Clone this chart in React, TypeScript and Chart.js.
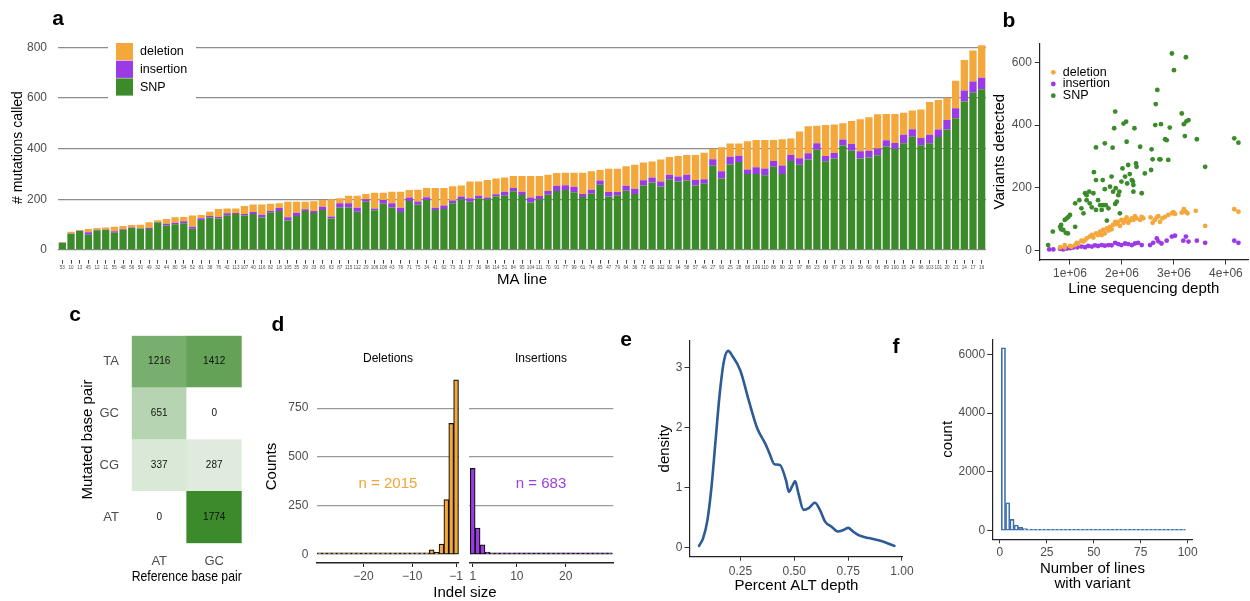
import React, { useEffect, useRef } from 'react';
import { Chart, registerables } from 'chart.js';

Chart.register(...registerables);

const FONT = "'Liberation Sans', Arial, Helvetica, sans-serif";
Chart.defaults.font.family = FONT;

const GRAY = '#4d4d4d';
const ORANGE = '#f4a73b';
const PURPLE = '#9b3be6';
const GREEN = '#3b8b2b';

// ---------- Panel a ----------
const MA_LINES = ['53','10','13','45','12','11','55','48','56','50','49','32','44','80','54','52','81','38','76','42','113','107','40','116','82','18','105','35','39','33','83','63','87','115','112','29','106','108','43','78','71','75','34','41','62','73','31','37','30','98','114','51','84','95','104','111','70','91','77','99','61','74','85','47','79','64','36','72','65','102','92','94','58','57','46','27','93','25','28','68','109','110','86','90','22','97','88','23','69','67','26','19','59','60','66','89','100','15','24','96','103','101','20','21','14','17','16'];
const SNP_CALLS = [27,64,75,60,78,80,68,79,87,84,83,108,97,101,105,84,118,128,124,137,142,136,142,128,147,154,116,134,154,146,158,124,168,168,151,190,157,182,168,150,193,178,197,158,162,184,200,190,204,200,211,214,232,217,187,200,218,233,237,228,209,222,257,211,216,234,221,254,266,250,279,270,274,254,261,332,282,337,347,300,300,295,328,300,351,336,357,396,350,361,412,392,361,365,374,408,399,421,447,413,421,446,475,520,586,620,634];
const INSERTION_CALLS = [1,1,1,10,2,1,6,3,2,2,5,2,6,6,8,8,7,6,6,8,4,6,8,11,7,12,13,13,7,8,13,8,16,16,16,10,7,15,16,17,14,13,11,9,13,11,11,14,10,7,9,16,13,13,20,13,15,20,18,21,12,16,17,18,13,19,21,21,20,20,18,20,23,22,18,26,29,31,25,18,26,27,23,33,24,26,25,25,21,22,24,26,29,27,26,25,23,34,29,29,34,29,38,39,43,45,46];
const DELETION_CALLS = [3,7,3,13,7,8,18,13,10,14,21,7,19,22,17,44,13,17,32,19,18,32,29,40,28,18,61,43,29,38,26,68,20,30,47,21,62,29,46,63,30,47,37,78,70,56,43,66,56,69,62,56,47,62,85,79,64,51,50,56,84,73,42,92,92,77,94,70,63,87,70,81,78,99,105,41,94,52,48,111,108,112,83,104,65,106,106,69,122,112,64,91,126,132,136,104,115,87,74,112,129,117,88,109,121,122,128];
const A_Y_TICKS = [0, 200, 400, 600, 800];

// ---------- Panel b ----------
const SNP_DEPTH = [0.58,0.67,0.81,0.83,0.87,0.92,0.96,0.83,0.90,0.94,1.00,0.97,1.10,1.10,1.18,1.22,1.26,1.29,1.32,1.32,1.37,1.38,1.42,1.45,1.46,1.50,1.50,1.54,1.58,1.61,1.63,1.64,1.50,1.67,1.67,1.69,1.71,1.74,1.77,1.80,1.82,1.83,1.85,1.87,1.88,1.87,1.90,1.93,1.95,1.96,1.99,2.01,2.03,2.06,2.08,2.09,2.10,2.12,2.15,2.19,2.21,2.22,2.22,2.24,2.27,2.28,2.35,2.38,2.44,2.56,2.57,2.59,2.64,2.65,2.68,2.72,2.74,2.75,2.83,2.86,2.89,2.92,2.96,3.00,3.15,3.19,3.21,3.23,3.24,3.28,3.44,3.60,4.16,4.24];
const SNP_DETECTED = [18,61,76,68,66,57,55,82,98,103,114,108,76,151,161,135,119,183,177,161,188,151,138,183,250,225,130,161,145,130,225,145,329,342,196,145,96,135,204,236,328,188,390,443,199,149,156,177,188,119,220,262,405,236,411,347,214,273,244,225,220,209,188,390,278,267,331,183,246,257,323,291,400,467,512,291,291,403,355,352,289,392,628,575,437,403,365,616,412,416,355,267,358,344];
const DEL_DEPTH = [0.81,0.90,1.00,1.10,1.16,1.22,1.29,1.32,1.38,1.42,1.45,1.50,1.54,1.58,1.61,1.64,1.67,1.71,1.74,1.77,1.80,1.83,1.87,1.90,1.93,1.96,1.99,2.03,2.06,2.09,2.12,2.15,2.19,2.22,2.25,2.28,2.35,2.38,2.41,2.55,2.59,2.63,2.67,2.70,2.73,2.78,2.83,2.89,2.96,2.99,3.02,3.15,3.19,3.23,3.26,3.42,3.60,4.16,4.24,0.90,1.03,1.13,1.26];
const DEL_DETECTED = [11,18,15,18,23,32,34,39,45,50,42,55,50,61,50,66,55,71,64,76,68,82,92,85,92,79,98,89,98,106,89,96,103,98,110,103,98,108,103,106,89,98,106,110,92,103,108,114,119,123,117,121,132,124,119,127,79,132,124,11,13,25,29];
const INS_DEPTH = [0.60,0.68,0.81,0.87,0.94,1.00,1.06,1.14,1.22,1.29,1.35,1.42,1.48,1.54,1.61,1.67,1.74,1.80,1.87,1.93,1.99,2.06,2.12,2.19,2.25,2.31,2.38,2.54,2.60,2.67,2.70,2.76,2.86,2.96,3.02,3.18,3.23,3.28,3.44,3.60,4.16,4.24];
const INS_DETECTED = [4,4,6,4,7,8,10,11,13,11,15,13,17,15,18,16,18,17,25,21,18,23,21,18,23,25,18,18,25,39,30,23,32,45,48,32,45,29,32,25,32,25];
const B_X_TICKS = [1e6, 2e6, 3e6, 4e6];
const B_Y_TICKS = [0, 200, 400, 600];

// ---------- Panel c ----------
const REF_BASES = ['AT', 'GC'];
const MUT_BASES = ['AT', 'CG', 'GC', 'TA'];
const MUT_AT = [0, 1774];
const MUT_CG = [337, 287];
const MUT_GC = [651, 0];
const MUT_TA = [1216, 1412];

// ---------- Panel d ----------
const DEL_SIZES = [-29,-28,-27,-26,-25,-24,-23,-22,-21,-20,-19,-18,-17,-16,-15,-14,-13,-12,-11,-10,-9,-8,-7,-6,-5,-4,-3,-2,-1];
const DEL_SIZE_COUNTS = [2,1,2,1,2,3,2,3,2,4,3,3,2,3,4,3,6,8,5,7,10,10,10,25,12,55,282,672,895];
const INS_SIZES = [1,2,3,4,5,6,7,8,9,10,11,12,13,14,15,16,17,18,19,20,21,22,23,24,25,26,27,28,29];
const INS_SIZE_COUNTS = [442,136,51,14,8,6,4,5,3,3,2,2,3,2,2,1,2,1,2,1,1,2,1,1,1,1,1,1,1];
const D_Y_TICKS = [0, 250, 500, 750];

// ---------- Panel e ----------
const ALT_DEPTH = [0.058,0.077,0.097,0.116,0.135,0.154,0.174,0.193,0.212,0.25,0.289,0.327,0.366,0.385,0.408,0.433,0.462,0.475,0.491,0.504,0.519,0.543,0.567,0.596,0.619,0.644,0.673,0.702,0.731,0.75,0.773,0.798,0.846,0.904,0.965];
const ALT_DENSITY = [0.03,0.16,0.46,1.02,1.80,2.57,3.12,3.28,3.20,2.95,2.45,2.0,1.73,1.57,1.39,1.38,1.12,0.93,1.03,1.11,0.91,0.63,0.66,0.75,0.63,0.43,0.35,0.27,0.30,0.33,0.27,0.21,0.16,0.11,0.03];
const E_X_TICKS = [0.25, 0.5, 0.75, 1.0];
const E_Y_TICKS = [0, 1, 2, 3];

// ---------- Panel f ----------
const LINES_WITH_VARIANT = [1.85,4.13,6.41,8.69,10.97,13.25,15.53,17.81,20.09,22.37,24.65,26.93,29.21,31.49,33.77,36.05,38.33,40.61,42.89,45.17,47.45,49.73,52.01,54.29,56.57,58.85,61.13,63.41,65.69,67.97,70.25,72.53,74.81,77.09,79.37,81.65,83.93,86.21,88.49,90.77,93.05,95.33,97.61];
const VARIANT_COUNT = [6224,952,388,194,116,76,58,45,38,30,25,35,20,16,14,12,11,10,9,8,8,7,7,6,6,5,5,5,4,4,4,4,3,3,3,3,3,3,2,2,2,2,2];
const F_X_TICKS = [0, 25, 50, 75, 100];
const F_Y_TICKS = [0, 2000, 4000, 6000];

// ---------- helpers ----------
const setTicks = (vals: number[]) => (s: any) => { s.ticks = vals.map((v) => ({ value: v })); };
const fixW = (w: number) => (s: any) => { s.width = w; };
const fixH = (h: number) => (s: any) => { s.height = h; };
const plain = (v: number) => String(v);

const baseOptions = (padding: any) => ({
  responsive: false,
  maintainAspectRatio: false,
  animation: false,
  devicePixelRatio: 1,
  events: [],
  layout: { padding, autoPadding: false },
  plugins: { legend: { display: false }, tooltip: { enabled: false }, title: { display: false } },
});

const tickMarks = (len: number) => ({ display: true, offset: false, drawOnChartArea: false, drawTicks: true, tickLength: len, color: '#333', lineWidth: 1 });
const axisBorder = { display: true, color: '#222', width: 1.2 };

const boxLegendPlugin = {
  id: 'boxLegend',
  afterDatasetsDraw(chart: any, _a: any, o: any) {
    const ctx = chart.ctx;
    ctx.save();
    ctx.fillStyle = '#fff';
    ctx.fillRect(o.bgX, o.bgY, o.bgW, o.bgH);
    const ds = [...chart.data.datasets].reverse();
    ds.forEach((d: any, i: number) => {
      const y = o.y + i * o.step;
      ctx.fillStyle = d.backgroundColor;
      ctx.fillRect(o.x, y, o.w, o.step - 0.5);
      ctx.fillStyle = '#000';
      ctx.font = `${o.size}px ${FONT}`;
      ctx.textBaseline = 'middle';
      ctx.textAlign = 'left';
      ctx.fillText(d.label, o.x + o.w + 7, y + o.step / 2);
    });
    ctx.restore();
  },
};

const dotLegendPlugin = {
  id: 'dotLegend',
  afterDatasetsDraw(chart: any, _a: any, o: any) {
    const ctx = chart.ctx;
    ctx.save();
    chart.data.datasets.forEach((d: any, i: number) => {
      const y = o.y + i * o.step;
      ctx.fillStyle = d.backgroundColor;
      ctx.beginPath();
      ctx.arc(o.x, y, o.r, 0, Math.PI * 2);
      ctx.fill();
      ctx.fillStyle = '#000';
      ctx.font = `${o.size}px ${FONT}`;
      ctx.textBaseline = 'middle';
      ctx.textAlign = 'left';
      ctx.fillText(d.label, o.x + o.gap, y);
    });
    ctx.restore();
  },
};

const cellTextPlugin = {
  id: 'cellText',
  afterDatasetsDraw(chart: any) {
    const ctx = chart.ctx;
    ctx.save();
    ctx.font = `10px ${FONT}`;
    ctx.fillStyle = '#111';
    ctx.textAlign = 'center';
    ctx.textBaseline = 'middle';
    chart.data.datasets.forEach((d: any, i: number) => {
      chart.getDatasetMeta(i).data.forEach((el: any, j: number) => {
        const p = el.getProps(['x', 'y', 'base'], true);
        ctx.fillText(String(d.counts[j]), p.x, (p.y + p.base) / 2);
      });
    });
    ctx.restore();
  },
};

const ALL_COUNTS = [...MUT_AT, ...MUT_CG, ...MUT_GC, ...MUT_TA];
const MAX_COUNT = Math.max(...ALL_COUNTS);
const heat = (v: number) => {
  const t = v / MAX_COUNT;
  const hi = [59, 138, 44];
  const c = hi.map((h) => Math.round(255 + (h - 255) * t));
  return `rgb(${c[0]},${c[1]},${c[2]})`;
};

// ---------- configs ----------
const makeA = () => ({
  type: 'bar',
  data: {
    labels: MA_LINES,
    datasets: [
      { label: 'SNP', data: SNP_CALLS, backgroundColor: GREEN },
      { label: 'insertion', data: INSERTION_CALLS, backgroundColor: PURPLE },
      { label: 'deletion', data: DELETION_CALLS, backgroundColor: ORANGE },
    ],
  },
  options: {
    ...baseOptions({ left: 8, top: 35, right: 9, bottom: 0 }),
    datasets: { bar: { barPercentage: 0.84, categoryPercentage: 1 } },
    plugins: {
      legend: { display: false }, tooltip: { enabled: false },
      boxLegend: { bgX: 108, bgY: 38, bgW: 88, bgH: 62, x: 116, y: 43, w: 17, step: 17.7, size: 12.5 },
    },
    scales: {
      x: {
        stacked: true,
        grid: { offset: false, display: true, drawOnChartArea: false, drawTicks: true, tickLength: 3.5, color: '#444', lineWidth: 1 },
        border: { display: false },
        ticks: { autoSkip: false, maxRotation: 0, minRotation: 0, font: { size: 4.6 }, color: GRAY, padding: 1.5 },
        title: { display: true, text: 'MA line', color: '#000', font: { size: 15 }, padding: { top: 0, bottom: 4 } },
        afterFit: fixH(32.8),
      },
      y: {
        stacked: true,
        min: -40.4,
        max: 848.4,
        afterBuildTicks: setTicks(A_Y_TICKS),
        grid: { color: '#8c8c8c', lineWidth: 1.3, drawTicks: false },
        border: { display: false },
        ticks: { font: { size: 12 }, color: GRAY, padding: 11, callback: plain },
        title: { display: true, text: '# mutations called', color: '#000', font: { size: 14 }, padding: { top: 2, bottom: 0 } },
        afterFit: fixW(50),
      },
    },
  },
  plugins: [boxLegendPlugin],
});

const pts = (xs: number[], ys: number[], scale = 1) => xs.map((x, i) => ({ x: x * scale, y: ys[i] }));

const makeB = () => ({
  type: 'scatter',
  data: {
    datasets: [
      { label: 'deletion', data: pts(DEL_DEPTH, DEL_DETECTED, 1e6), backgroundColor: ORANGE, borderWidth: 0, pointRadius: 2.4 },
      { label: 'insertion', data: pts(INS_DEPTH, INS_DETECTED, 1e6), backgroundColor: PURPLE, borderWidth: 0, pointRadius: 2.4 },
      { label: 'SNP', data: pts(SNP_DEPTH, SNP_DETECTED, 1e6), backgroundColor: GREEN, borderWidth: 0, pointRadius: 2.4 },
    ],
  },
  options: {
    ...baseOptions({ left: 1, top: 43.3, right: 1.7, bottom: 0 }),
    plugins: {
      legend: { display: false }, tooltip: { enabled: false },
      dotLegend: { x: 63.3, y: 72.3, step: 11.7, r: 2.4, gap: 9.5, size: 12.5 },
    },
    scales: {
      x: {
        type: 'linear',
        offset: false,
        min: 0.41e6,
        max: 4.43e6,
        afterBuildTicks: setTicks(B_X_TICKS),
        grid: tickMarks(4.5),
        border: axisBorder,
        ticks: { font: { size: 12 }, color: GRAY, padding: 2.2, callback: (v: number) => `${v / 1e6}e+06` },
        title: { display: true, text: 'Line sequencing depth', color: '#000', font: { size: 15 }, padding: { top: 0, bottom: 1.7 } },
        afterFit: fixH(40),
      },
      y: {
        type: 'linear',
        min: -29.6,
        max: 660.5,
        afterBuildTicks: setTicks(B_Y_TICKS),
        grid: tickMarks(4.5),
        border: axisBorder,
        ticks: { font: { size: 12 }, color: GRAY, padding: 3, callback: plain },
        title: { display: true, text: 'Variants detected', color: '#000', font: { size: 15 }, padding: { top: 0, bottom: 0 } },
        afterFit: fixW(48.3),
      },
    },
  },
  plugins: [dotLegendPlugin],
});

const cellDs = (label: string, counts: number[]) => ({
  label,
  data: counts.map(() => 1),
  counts,
  backgroundColor: counts.map(heat),
  borderWidth: 0,
  barPercentage: 1,
  categoryPercentage: 1,
});

const makeC = () => ({
  type: 'bar',
  data: {
    labels: REF_BASES,
    datasets: [cellDs('AT', MUT_AT), cellDs('CG', MUT_CG), cellDs('GC', MUT_GC), cellDs('TA', MUT_TA)],
  },
  options: {
    ...baseOptions({ left: 19.3, top: 40.7, right: 8.3, bottom: 0 }),
    scales: {
      x: {
        stacked: true,
        grid: { display: false, drawTicks: false },
        border: { display: false },
        ticks: { font: { size: 13 }, color: GRAY, padding: 10 },
        title: { display: true, text: 'Reference base pair', color: '#000', font: { size: 15 }, padding: { top: 0, bottom: 9.3 } },
        afterFit: fixH(51.7),
      },
      y: {
        stacked: true,
        type: 'linear',
        min: 0,
        max: 4,
        afterBuildTicks: setTicks([0.5, 1.5, 2.5, 3.5]),
        grid: { display: false, drawTicks: false },
        border: { display: false },
        ticks: { font: { size: 13 }, color: GRAY, padding: 12.7, callback: (v: number) => MUT_BASES[Math.floor(v)] },
        title: { display: true, text: 'Mutated base pair', color: '#000', font: { size: 15 }, padding: { top: 0, bottom: 0 } },
        afterFit: fixW(52.4),
      },
    },
  },
  plugins: [cellTextPlugin],
});

const minusFmt = (v: number) => (v < 0 ? `\u2212${Math.abs(v)}` : `${v}`);

const makeD = (sizes: number[], counts: number[], color: string, xmin: number, xmax: number, xticks: number[], withY: boolean) => ({
  type: 'bar',
  data: {
    datasets: [
      {
        data: pts(sizes, counts),
        backgroundColor: color,
        borderColor: '#111',
        borderWidth: 1.2,
        borderSkipped: false,
        minBarLength: 2,
        barPercentage: 1,
        categoryPercentage: 1,
      },
    ],
  },
  options: {
    ...baseOptions(withY ? { left: 3, top: 70, right: 4.3, bottom: 0 } : { left: 4.3, top: 70, right: 11.7, bottom: 0 }),
    scales: {
      x: {
        type: 'linear',
        offset: false,
        min: xmin,
        max: xmax,
        afterBuildTicks: setTicks(xticks),
        grid: { display: true, offset: false, drawOnChartArea: false, drawTicks: true, tickLength: 4, color: '#222', lineWidth: 1 },
        border: { display: true, color: '#222', width: 1.6 },
        ticks: { font: { size: 12 }, color: GRAY, padding: 2, callback: minusFmt },
        afterFit: fixH(37),
      },
      y: {
        type: 'linear',
        min: -42,
        max: 945,
        afterBuildTicks: setTicks(D_Y_TICKS),
        grid: { color: (c: any) => (c.tick && c.tick.value === 0 ? 'rgba(0,0,0,0)' : '#9a9a9a'), lineWidth: 1.2, drawTicks: false },
        border: { display: false },
        ticks: { display: withY, font: { size: 12 }, color: GRAY, padding: 8.4, callback: plain },
        title: { display: withY, text: 'Counts', color: '#000', font: { size: 15 }, padding: { top: 0, bottom: 0 } },
        afterFit: fixW(withY ? 53.7 : 0),
      },
    },
  },
});

const makeE = () => ({
  type: 'scatter',
  data: {
    datasets: [
      {
        data: pts(ALT_DEPTH, ALT_DENSITY),
        showLine: true,
        borderColor: '#2c5b96',
        borderWidth: 2.6,
        pointRadius: 0,
        cubicInterpolationMode: 'monotone',
        borderCapStyle: 'round',
        borderJoinStyle: 'round',
      },
    ],
  },
  options: {
    ...baseOptions({ left: 32, top: 40.7, right: 7.8, bottom: 0 }),
    scales: {
      x: {
        type: 'linear',
        offset: false,
        min: 0.016,
        max: 1.004,
        afterBuildTicks: setTicks(E_X_TICKS),
        grid: tickMarks(4),
        border: axisBorder,
        ticks: { font: { size: 12 }, color: GRAY, padding: 3.3, callback: (v: number) => v.toFixed(2) },
        title: { display: true, text: 'Percent ALT depth', color: '#000', font: { size: 15 }, padding: { top: 0, bottom: 5.3 } },
        afterFit: fixH(43.3),
      },
      y: {
        type: 'linear',
        min: -0.15,
        max: 3.45,
        afterBuildTicks: setTicks(E_Y_TICKS),
        grid: tickMarks(5.5),
        border: axisBorder,
        ticks: { font: { size: 12 }, color: GRAY, padding: 2.2, callback: plain },
        title: { display: true, text: 'density', color: '#000', font: { size: 15 }, padding: { top: 4, bottom: 0 } },
        afterFit: fixW(38),
      },
    },
  },
});

const makeF = () => ({
  type: 'bar',
  data: {
    datasets: [
      {
        data: pts(LINES_WITH_VARIANT, VARIANT_COUNT),
        backgroundColor: 'rgba(255,255,255,0)',
        borderColor: '#3e6fae',
        borderWidth: 1,
        borderSkipped: false,
        minBarLength: 1.5,
        barPercentage: 1,
        categoryPercentage: 1,
      },
    ],
  },
  options: {
    ...baseOptions({ left: 15.2, top: 39.3, right: 18, bottom: 0 }),
    scales: {
      x: {
        type: 'linear',
        offset: false,
        min: -3.8,
        max: 102.3,
        afterBuildTicks: setTicks(F_X_TICKS),
        grid: tickMarks(4),
        border: axisBorder,
        ticks: { font: { size: 12 }, color: GRAY, padding: 2.4, callback: plain },
        title: { display: true, text: ['Number of lines', 'with variant'], color: '#000', font: { size: 15, lineHeight: 1.05 }, padding: { top: 0, bottom: 8 } },
        afterFit: fixH(60.7),
      },
      y: {
        type: 'linear',
        min: -292,
        max: 6510,
        afterBuildTicks: setTicks(F_Y_TICKS),
        grid: tickMarks(5.6),
        border: axisBorder,
        ticks: { font: { size: 12 }, color: GRAY, padding: 2, callback: plain },
        title: { display: true, text: 'count', color: '#000', font: { size: 15 }, padding: { top: 4, bottom: 0 } },
        afterFit: fixW(57.6),
      },
    },
  },
});

// ---------- components ----------
function ChartBox({ left, top, width, height, make }: { left: number; top: number; width: number; height: number; make: () => any }) {
  const ref = useRef<HTMLCanvasElement>(null);
  useEffect(() => {
    const chart = new Chart(ref.current as HTMLCanvasElement, make());
    return () => chart.destroy();
  }, []);
  return (
    <canvas
      ref={ref}
      width={width}
      height={height}
      style={{ position: 'absolute', left, top, width, height, display: 'block' }}
    />
  );
}

function Txt({ x, y, size, bold, color = '#000', children }: { x: number; y: number; size: number; bold?: boolean; color?: string; children: any }) {
  return (
    <div
      style={{
        position: 'absolute',
        left: x,
        top: y,
        transform: 'translate(-50%, -50%)',
        fontFamily: FONT,
        fontSize: size,
        fontWeight: bold ? 700 : 400,
        color,
        lineHeight: 1,
        whiteSpace: 'nowrap',
      }}
    >
      {children}
    </div>
  );
}

export default function App() {
  return (
    <div style={{ position: 'absolute', left: 0, top: 0, width: 1250, height: 601, background: '#fff', overflow: 'hidden' }}>
      <ChartBox left={0} top={0} width={995} height={293} make={makeA} />
      <ChartBox left={990} top={0} width={260} height={300} make={makeB} />
      <ChartBox left={60} top={295} width={190} height={300} make={makeC} />
      <ChartBox
        left={260}
        top={300}
        width={205}
        height={300}
        make={() => makeD(DEL_SIZES, DEL_SIZE_COUNTS, ORANGE, -29.6, -0.4, [-20, -10, -1], true)}
      />
      <ChartBox
        left={465}
        top={300}
        width={160}
        height={300}
        make={() => makeD(INS_SIZES, INS_SIZE_COUNTS, PURPLE, 0.3, 29.7, [1, 10, 20], false)}
      />
      <ChartBox left={620} top={300} width={297} height={300} make={makeE} />
      <ChartBox left={920} top={300} width={290} height={300} make={makeF} />

      <Txt x={58} y={17} size={21} bold>a</Txt>
      <Txt x={1009} y={19} size={21} bold>b</Txt>
      <Txt x={75} y={313} size={21} bold>c</Txt>
      <Txt x={278} y={323} size={21} bold>d</Txt>
      <Txt x={626} y={338} size={21} bold>e</Txt>
      <Txt x={896} y={345} size={21} bold>f</Txt>

      <Txt x={388} y={358} size={12}>Deletions</Txt>
      <Txt x={541} y={358} size={12}>Insertions</Txt>
      <Txt x={388} y={482} size={15} color="#f0a535">n = 2015</Txt>
      <Txt x={541} y={482} size={15} color="#9a3fe0">n = 683</Txt>
      <Txt x={465} y={591} size={15}>Indel size</Txt>
    </div>
  );
}
